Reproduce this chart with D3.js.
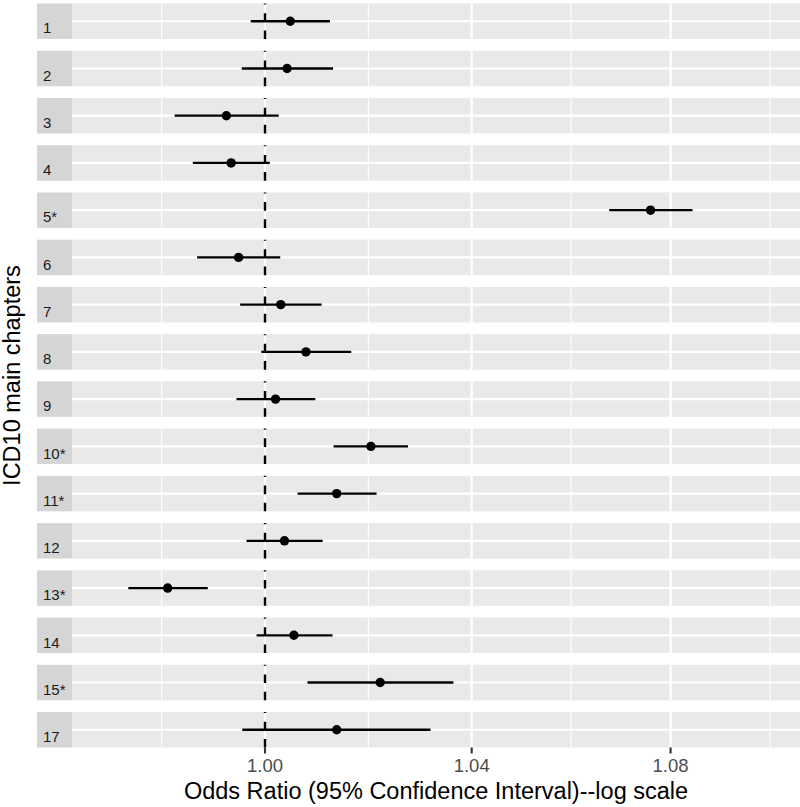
<!DOCTYPE html>
<html>
<head>
<meta charset="utf-8">
<script src="https://cdn.jsdelivr.net/npm/d3@7"></script>
<style>
  html, body { margin: 0; padding: 0; background: #ffffff; }
  svg { display: block; }
  text { font-family: "Liberation Sans", Arial, Helvetica, sans-serif; }
</style>
</head>
<body>
<svg id="chart" width="800" height="807"></svg>
<script>
// ---- Data ----
const chapters = ["1","2","3","4","5*","6","7","8","9","10*","11*","12","13*","14","15*","17"];
const oddsRatio = [1.0048, 1.0042, 0.9927, 0.9936, 1.0759, 0.9950, 1.0030, 1.0078, 1.0020, 1.0203, 1.0137, 1.0037, 0.9817, 1.0055, 1.0221, 1.0137];
const ciLower   = [0.9973, 0.9956, 0.9830, 0.9864, 1.0675, 0.9872, 0.9953, 0.9993, 0.9946, 1.0131, 1.0062, 0.9965, 0.9744, 0.9984, 1.0081, 0.9957];
const ciUpper   = [1.0124, 1.0130, 1.0026, 1.0009, 1.0845, 1.0029, 1.0108, 1.0165, 1.0096, 1.0275, 1.0214, 1.0110, 0.9892, 1.0129, 1.0364, 1.0319];
const xTicks = [1.00, 1.04, 1.08];
const xTickLabels = ["1.00", "1.04", "1.08"];
const referenceValue = 1.00;
const xLimits = [0.96404, 1.10685];
const xTitle = "Odds Ratio (95% Confidence Interval)--log scale";
const yTitle = "ICD10 main chapters";

const rows = chapters.map((c, i) => ({ chapter: c, or: oddsRatio[i], lo: ciLower[i], hi: ciUpper[i] }));

// ---- Layout ----
const svg = d3.select("#chart");
const panelLeft = 72, panelRight = 800;
const stripLeft = 37;
const panelTop = 3.5, panelBottom = 747.5;

const x = d3.scaleLog().domain(xLimits).range([panelLeft, panelRight]);
const y = d3.scaleBand().domain(chapters).range([panelTop, panelBottom]).paddingInner(0.2487).paddingOuter(0);

// minor breaks: geometric midpoints of majors, extended by one step each side
const ext = [xTicks[0] * xTicks[0] / xTicks[1], ...xTicks, xTicks[xTicks.length-1] * xTicks[xTicks.length-1] / xTicks[xTicks.length-2]];
const minorTicks = [];
for (let i = 0; i < ext.length - 1; i++) minorTicks.push(Math.sqrt(ext[i] * ext[i+1]));

const bw = y.bandwidth();

const panels = svg.append("g").selectAll("g.panel")
  .data(rows).enter().append("g")
  .attr("class", "panel")
  .attr("transform", d => `translate(0,${y(d.chapter)})`);

// panel background
panels.append("rect")
  .attr("x", panelLeft).attr("y", 0)
  .attr("width", panelRight - panelLeft).attr("height", bw)
  .attr("fill", "#E9E9E9");

// strip
panels.append("rect")
  .attr("x", stripLeft).attr("y", 0)
  .attr("width", panelLeft - stripLeft).attr("height", bw)
  .attr("fill", "#D5D5D5");
panels.append("text")
  .attr("x", 43).attr("y", bw - 5.5)
  .attr("font-size", 15)
  .attr("fill", "#1A1A1A")
  .text(d => d.chapter);

// vertical grid
panels.each(function() {
  const g = d3.select(this);
  g.selectAll("line.minor").data(minorTicks.filter(v => v > xLimits[0] && v < xLimits[1]))
    .enter().append("line")
    .attr("x1", v => x(v)).attr("x2", v => x(v))
    .attr("y1", 0).attr("y2", bw)
    .attr("stroke", "#FFFFFF").attr("stroke-width", 1.1);
  g.selectAll("line.major").data(xTicks)
    .enter().append("line")
    .attr("x1", v => x(v)).attr("x2", v => x(v))
    .attr("y1", 0).attr("y2", bw)
    .attr("stroke", "#FFFFFF").attr("stroke-width", 2.2);
});
// horizontal major grid line (category position)
panels.append("line")
  .attr("x1", panelLeft).attr("x2", panelRight)
  .attr("y1", bw / 2).attr("y2", bw / 2)
  .attr("stroke", "#FFFFFF").attr("stroke-width", 2.2);

// dashed reference line (drawn bottom-up)
panels.append("line")
  .attr("x1", x(referenceValue)).attr("x2", x(referenceValue))
  .attr("y1", bw).attr("y2", 0)
  .attr("stroke", "#000000").attr("stroke-width", 2.4)
  .attr("stroke-dasharray", "8.6 8.6");

// error bars
panels.append("line")
  .attr("x1", d => x(d.lo)).attr("x2", d => x(d.hi))
  .attr("y1", bw / 2).attr("y2", bw / 2)
  .attr("stroke", "#000000").attr("stroke-width", 2.3);

// points
panels.append("circle")
  .attr("cx", d => x(d.or)).attr("cy", bw / 2)
  .attr("r", 4.7)
  .attr("fill", "#000000");

// x axis
const axisG = svg.append("g").attr("transform", `translate(0,${panelBottom})`);
axisG.selectAll("line.tick").data(xTicks).enter().append("line")
  .attr("x1", v => x(v)).attr("x2", v => x(v))
  .attr("y1", 0).attr("y2", 6)
  .attr("stroke", "#333333").attr("stroke-width", 2.1);
axisG.selectAll("text.tick").data(xTicks).enter().append("text")
  .attr("x", v => x(v)).attr("y", 24.2)
  .attr("text-anchor", "middle")
  .attr("font-size", 18.5)
  .attr("fill", "#4D4D4D")
  .text((v, i) => xTickLabels[i]);

// axis titles
svg.append("text")
  .attr("x", (panelLeft + panelRight) / 2).attr("y", 798.5)
  .attr("text-anchor", "middle")
  .attr("font-size", 23.5)
  .attr("fill", "#000000")
  .text(xTitle);

svg.append("text")
  .attr("transform", `translate(20,${(panelTop + panelBottom) / 2}) rotate(-90)`)
  .attr("text-anchor", "middle")
  .attr("font-size", 23.5)
  .attr("fill", "#000000")
  .text(yTitle);
</script>
</body>
</html>
